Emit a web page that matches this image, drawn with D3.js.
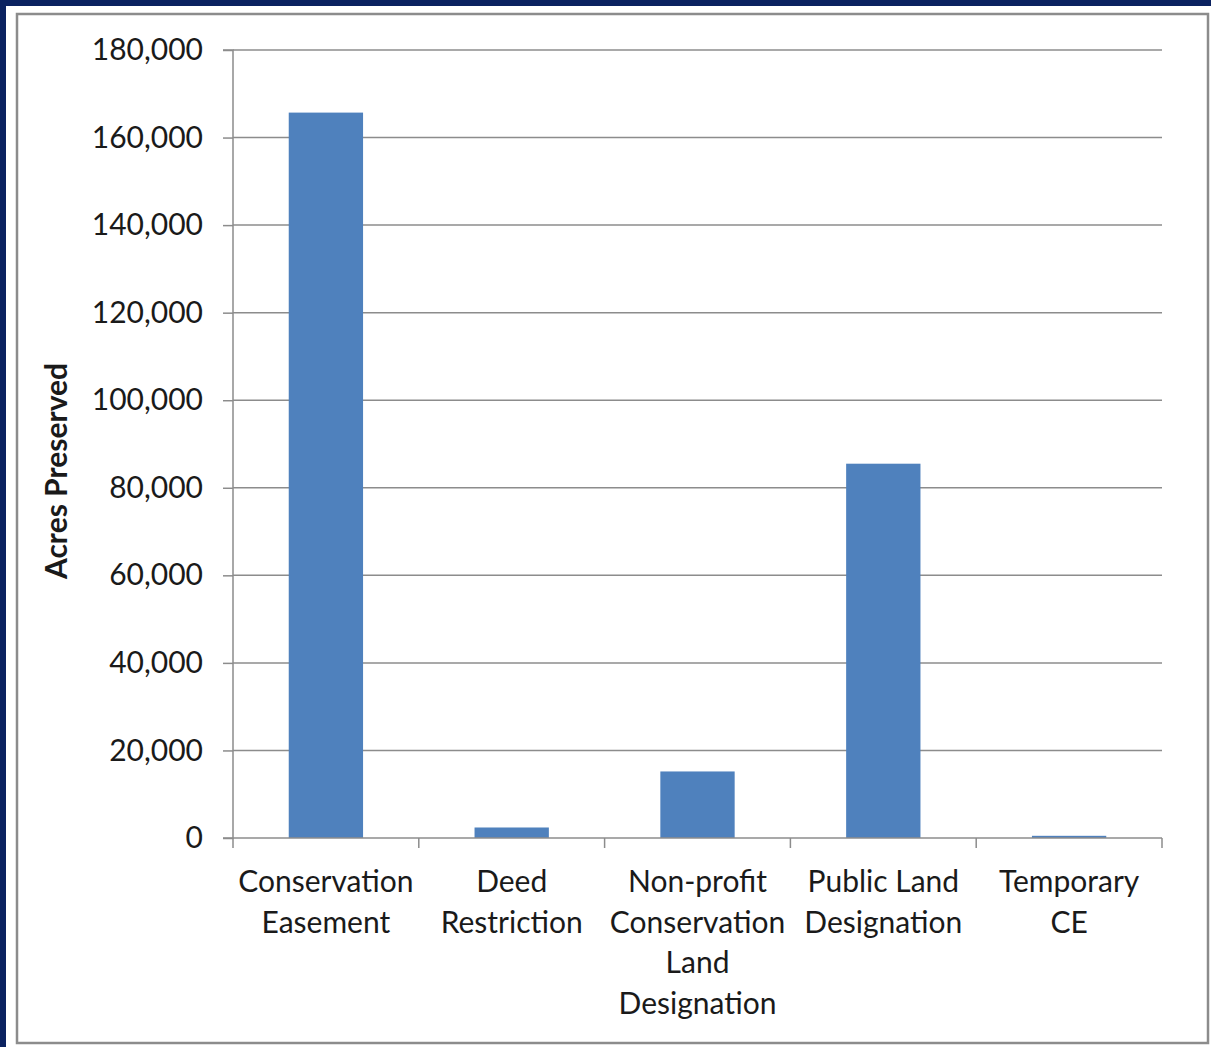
<!DOCTYPE html>
<html><head><meta charset="utf-8">
<script src="https://cdn.jsdelivr.net/npm/d3@7"></script>
<style>
html,body{margin:0;padding:0;background:#fff;}
svg{display:block;}
text{font-family:Lato,"Open Sans",sans-serif;fill:#1a1a1a;}
</style></head>
<body>
<svg id="c" width="1211" height="1047"></svg>
<script>
const categories = [["Conservation","Easement"],["Deed","Restriction"],["Non-profit","Conservation","Land","Designation"],["Public Land","Designation"],["Temporary","CE"]];
const acres = [165700, 2400, 15200, 85500, 500];
const yTicks = [0,20000,40000,60000,80000,100000,120000,140000,160000,180000];
const yTitle = "Acres Preserved";

(function(){
const svg = d3.select("#c");
svg.append("rect").attr("x",0).attr("y",0).attr("width",1211).attr("height",1047).attr("fill","#0b2260");
svg.append("rect").attr("x",6).attr("y",6).attr("width",1205).attr("height",1041).attr("fill","#fff");
svg.append("rect").attr("x",17).attr("y",14).attr("width",1191).attr("height",1029)
  .attr("fill","#fff").attr("stroke","#8c8c8c").attr("stroke-width",2.5);

const pL=233, pR=1162, pT=50, pB=838;
const x = d3.scaleBand().domain(d3.range(categories.length)).range([pL,pR]).paddingInner(0.6).paddingOuter(0.3);
const xb = d3.scaleBand().domain(d3.range(categories.length)).range([pL,pR]);
const y = d3.scaleLinear().domain([0,180000]).range([pB,pT]);

svg.append("g").selectAll("line").data(yTicks.filter(d=>d>0)).join("line")
  .attr("x1",pL).attr("x2",pR).attr("y1",d=>y(d)).attr("y2",d=>y(d))
  .attr("stroke","#8c8c8c").attr("stroke-width",1.5);

const ya = svg.append("g").attr("transform",`translate(${pL},0)`)
  .call(d3.axisLeft(y).tickValues(yTicks).tickSize(10).tickPadding(20).tickFormat(d3.format(",")));
ya.select(".domain").attr("stroke","#8c8c8c").attr("stroke-width",1.5).attr("d",`M-10,${pB}H0V${pT}H-10`);
ya.selectAll(".tick line").attr("stroke","#8c8c8c").attr("stroke-width",1.5);
ya.selectAll(".tick text").attr("font-size",30).attr("font-family","Lato").attr("fill","#1a1a1a");

svg.append("g").selectAll("rect").data(acres).join("rect")
  .attr("x",(d,i)=>x(i)).attr("width",x.bandwidth())
  .attr("y",d=>y(d)).attr("height",d=>pB-y(d))
  .attr("fill","#4f81bd");

svg.append("line").attr("x1",pL).attr("x2",pR).attr("y1",pB).attr("y2",pB)
  .attr("stroke","#8c8c8c").attr("stroke-width",1.5);
const bounds = d3.range(categories.length+1).map(i=> i<categories.length ? xb(i) : pR);
svg.append("g").selectAll("line").data(bounds).join("line")
  .attr("x1",d=>d).attr("x2",d=>d).attr("y1",pB).attr("y2",pB+10)
  .attr("stroke","#8c8c8c").attr("stroke-width",1.5);

const lab = svg.append("g").selectAll("text").data(categories).join("text")
  .attr("text-anchor","middle").attr("font-size",30)
  .attr("transform",(d,i)=>`translate(${xb(i)+xb.bandwidth()/2},892)`);
lab.selectAll("tspan").data(d=>d).join("tspan").attr("x",0).attr("dy",(d,i)=>i===0?0:40.5).text(d=>d);

svg.append("text").attr("transform",`translate(67,${(pT+pB)/2+27}) rotate(-90)`)
  .attr("text-anchor","middle").attr("font-size",30).attr("font-weight","bold").attr("fill","#000").text(yTitle);
})();
</script>
</body></html>
